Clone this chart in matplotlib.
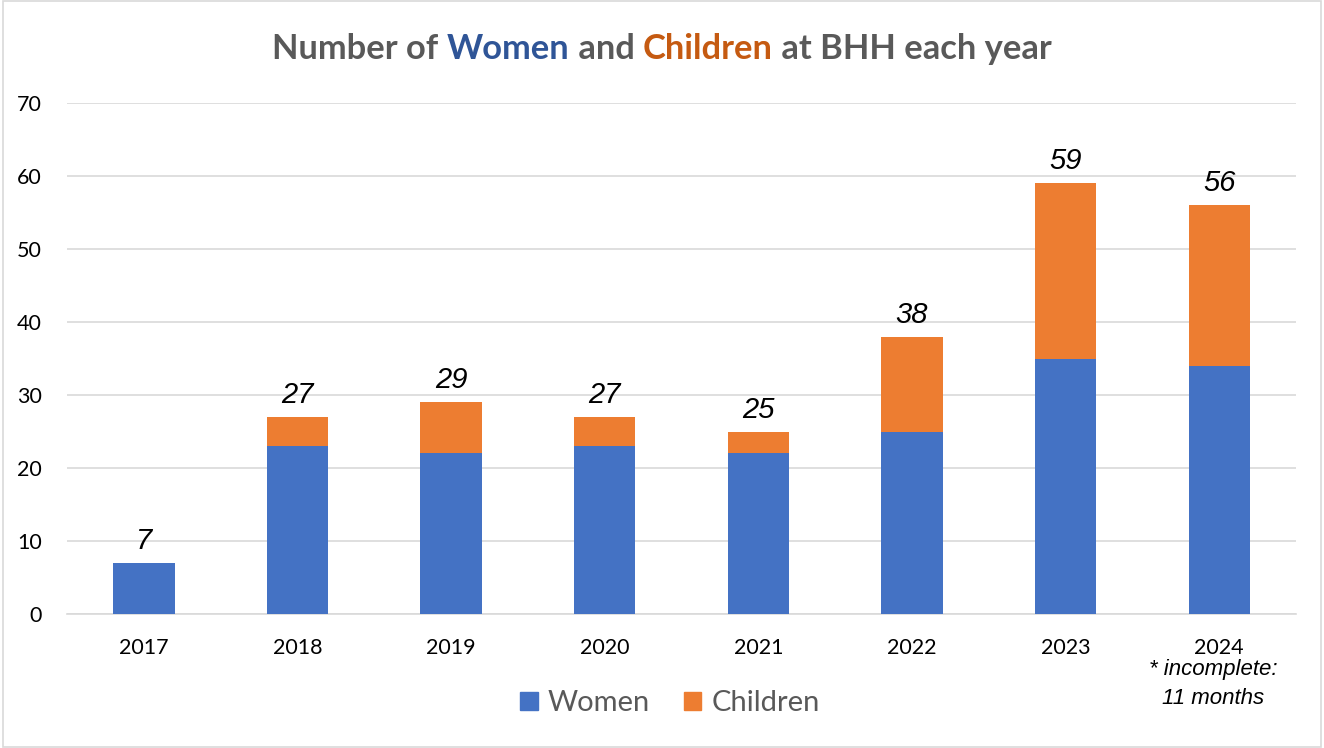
import matplotlib
matplotlib.use("Agg")
import matplotlib.pyplot as plt
from matplotlib.patches import Rectangle, Patch

years = ["2017", "2018", "2019", "2020", "2021", "2022", "2023", "2024"]
women = [7, 23, 22, 23, 22, 25, 35, 34]
children = [0, 4, 7, 4, 3, 13, 24, 22]
totals = [w + c for w, c in zip(women, children)]
yticks = [0, 10, 20, 30, 40, 50, 60, 70]

C_W = "#4472C4"
C_C = "#ED7D31"
GREY = "#595959"

fig = plt.figure(figsize=(13.24, 7.48), dpi=100)
fig.patches.append(Rectangle((0.002, 0.002), 0.996, 0.996, transform=fig.transFigure,
                             fill=False, edgecolor="#D9D9D9", linewidth=1.2))

ax = fig.add_axes([0.0506, 0.1791, 0.9283, 0.6832])
x = list(range(len(years)))
ax.bar(x, women, width=0.4, color=C_W, label="Women", zorder=3)
ax.bar(x, children, width=0.4, bottom=women, color=C_C, label="Children", zorder=3)

for xi, t in zip(x, totals):
    ax.annotate(str(t), (xi, t), xytext=(0, 10), textcoords="offset points",
                ha="center", va="baseline", fontsize=21,
                style="italic", family="Liberation Sans", color="black")

ax.set_xlim(-0.5, len(years) - 0.5)
ax.set_ylim(0, 70)
ax.set_yticks(yticks)
ax.set_xticks(x)
ax.set_xticklabels(years)
ax.grid(axis="y", color="#D9D9D9", linewidth=1.2, zorder=0)
for s in ["top", "right", "left"]:
    ax.spines[s].set_visible(False)
ax.spines["bottom"].set_color("#D9D9D9")
ax.spines["bottom"].set_linewidth(1.2)
ax.tick_params(axis="both", length=0, labelsize=15.5, labelcolor="black")
ax.tick_params(axis="y", pad=18)
ax.tick_params(axis="x", pad=17)
for lab in ax.get_xticklabels() + ax.get_yticklabels():
    lab.set_family("Lato")

ax.text(6.96, -0.088, "* incomplete:\n11 months", transform=ax.get_xaxis_transform(),
        ha="center", va="top", fontsize=16, style="italic", family="Liberation Sans",
        linespacing=1.5)

leg = fig.legend(handles=[Patch(color=C_W, label="Women"), Patch(color=C_C, label="Children")],
                 loc="center", bbox_to_anchor=(0.506, 0.06), ncol=2, frameon=False,
                 prop={"family": "Lato", "size": 21}, handlelength=0.6, handleheight=0.6,
                 handletextpad=0.35, columnspacing=1.15)
for t in leg.get_texts():
    t.set_color(GREY)

# multi-coloured title
parts = [("Number of ", GREY), ("Women", "#2F5597"), (" and ", GREY),
         ("Children", "#C55A11"), (" at BHH each year", GREY)]
fig.canvas.draw()
r = fig.canvas.get_renderer()
texts = []
for s, c in parts:
    t = fig.text(0, 0.934, s, color=c, fontsize=24.8, fontweight="bold", family="Lato",
                 ha="left", va="center")
    texts.append(t)
widths = []
for t in texts:
    bb = t.get_window_extent(renderer=r)
    widths.append(bb.width)
total = sum(widths)
W = fig.bbox.width
xpos = 0.5 * W - total / 2
for t, w in zip(texts, widths):
    t.set_x(xpos / W)
    xpos += w

fig.savefig("out.png", dpi=100)
